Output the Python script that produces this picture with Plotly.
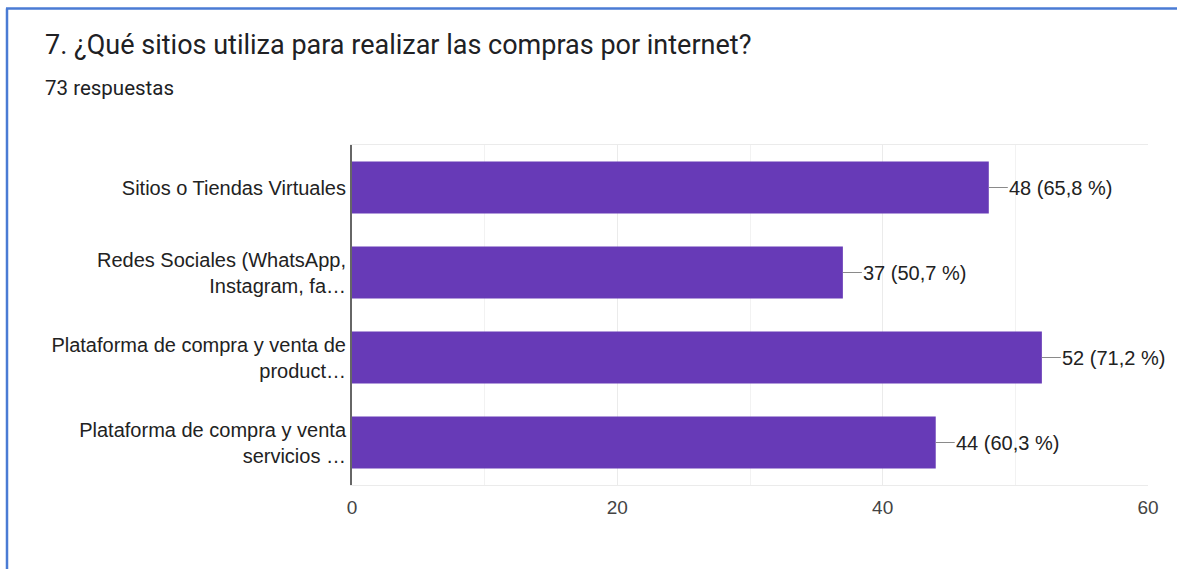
import plotly.graph_objects as go

categories = [
    "Sitios o Tiendas Virtuales",
    "Redes Sociales (WhatsApp,<br>Instagram, fa…",
    "Plataforma de compra y venta de<br>product…",
    "Plataforma de compra y venta<br>servicios …",
]
counts = [48, 37, 52, 44]
total_responses = 73
x_ticks = [0, 20, 40, 60]

title_text = "7. ¿Qué sitios utiliza para realizar las compras por internet?"
subtitle_text = "73 respuestas"

W, H = 1177, 569
L, R, T, B = 352, 29, 145, 84
pw = W - L - R
ph = H - T - B

def px_x(p):
    return (p - L) / pw

def px_y(p):
    return (H - B - p) / ph

labels = []
for c in counts:
    pct = f"{c / total_responses * 100:.1f}".replace(".", ",")
    labels.append(f"{c} ({pct} %)")

fig = go.Figure()
fig.add_trace(go.Bar(
    x=counts, y=categories, orientation="h",
    marker=dict(color="#673ab7", line=dict(width=0)),
    width=0.61, hoverinfo="skip",
))

for c, cat, lab in zip(counts, categories, labels):
    fig.add_annotation(
        x=c, y=cat, xref="x", yref="y", text=lab,
        showarrow=True, arrowhead=0, arrowwidth=1, arrowcolor="#8a8a8a",
        ax=19, ay=0, xanchor="left", yanchor="middle", borderpad=0,
        font=dict(family="Arial, Liberation Sans", size=20, color="#222222"),
    )

fig.add_annotation(
    x=px_x(43), y=px_y(45), xref="paper", yref="paper", text=title_text,
    showarrow=False, xanchor="left", yanchor="middle",
    font=dict(family="Roboto", size=27, color="#202124"),
)
fig.add_annotation(
    x=px_x(43), y=px_y(88), xref="paper", yref="paper", text=subtitle_text,
    showarrow=False, xanchor="left", yanchor="middle",
    font=dict(family="Roboto", size=20.5, color="#202124"),
)

# card border (left and top)
fig.add_shape(type="line", xref="paper", yref="paper",
              x0=px_x(7), y0=px_y(H + 5), x1=px_x(7), y1=px_y(8.5),
              line=dict(color="#4a7bd4", width=2.5))
fig.add_shape(type="line", xref="paper", yref="paper",
              x0=px_x(6), y0=px_y(8.5), x1=px_x(W + 5), y1=px_y(8.5),
              line=dict(color="#4a7bd4", width=2.5))

fig.update_layout(
    width=W, height=H,
    margin=dict(l=L, r=R, t=T, b=B),
    plot_bgcolor="white", paper_bgcolor="white",
    showlegend=False, bargap=0.39,
)
fig.update_xaxes(
    range=[0, 60], tickvals=x_ticks, ticktext=[str(v) for v in x_ticks],
    showgrid=True, gridcolor="#ebebeb", gridwidth=1,
    minor=dict(dtick=10, showgrid=True, gridcolor="#f2f2f2"),
    showline=True, linecolor="#ebebeb", mirror=True, zeroline=False,
    tickfont=dict(family="Arial, Liberation Sans", size=19, color="#444444"),
    ticklabelstandoff=5, fixedrange=True,
)
fig.update_yaxes(
    categoryorder="array", categoryarray=categories, autorange="reversed",
    showline=True, linecolor="#666666", linewidth=2, showgrid=False,
    tickfont=dict(family="Arial, Liberation Sans", size=20, color="#222222"),
    ticklabelstandoff=0, fixedrange=True,
)

fig.write_html("out.html")
